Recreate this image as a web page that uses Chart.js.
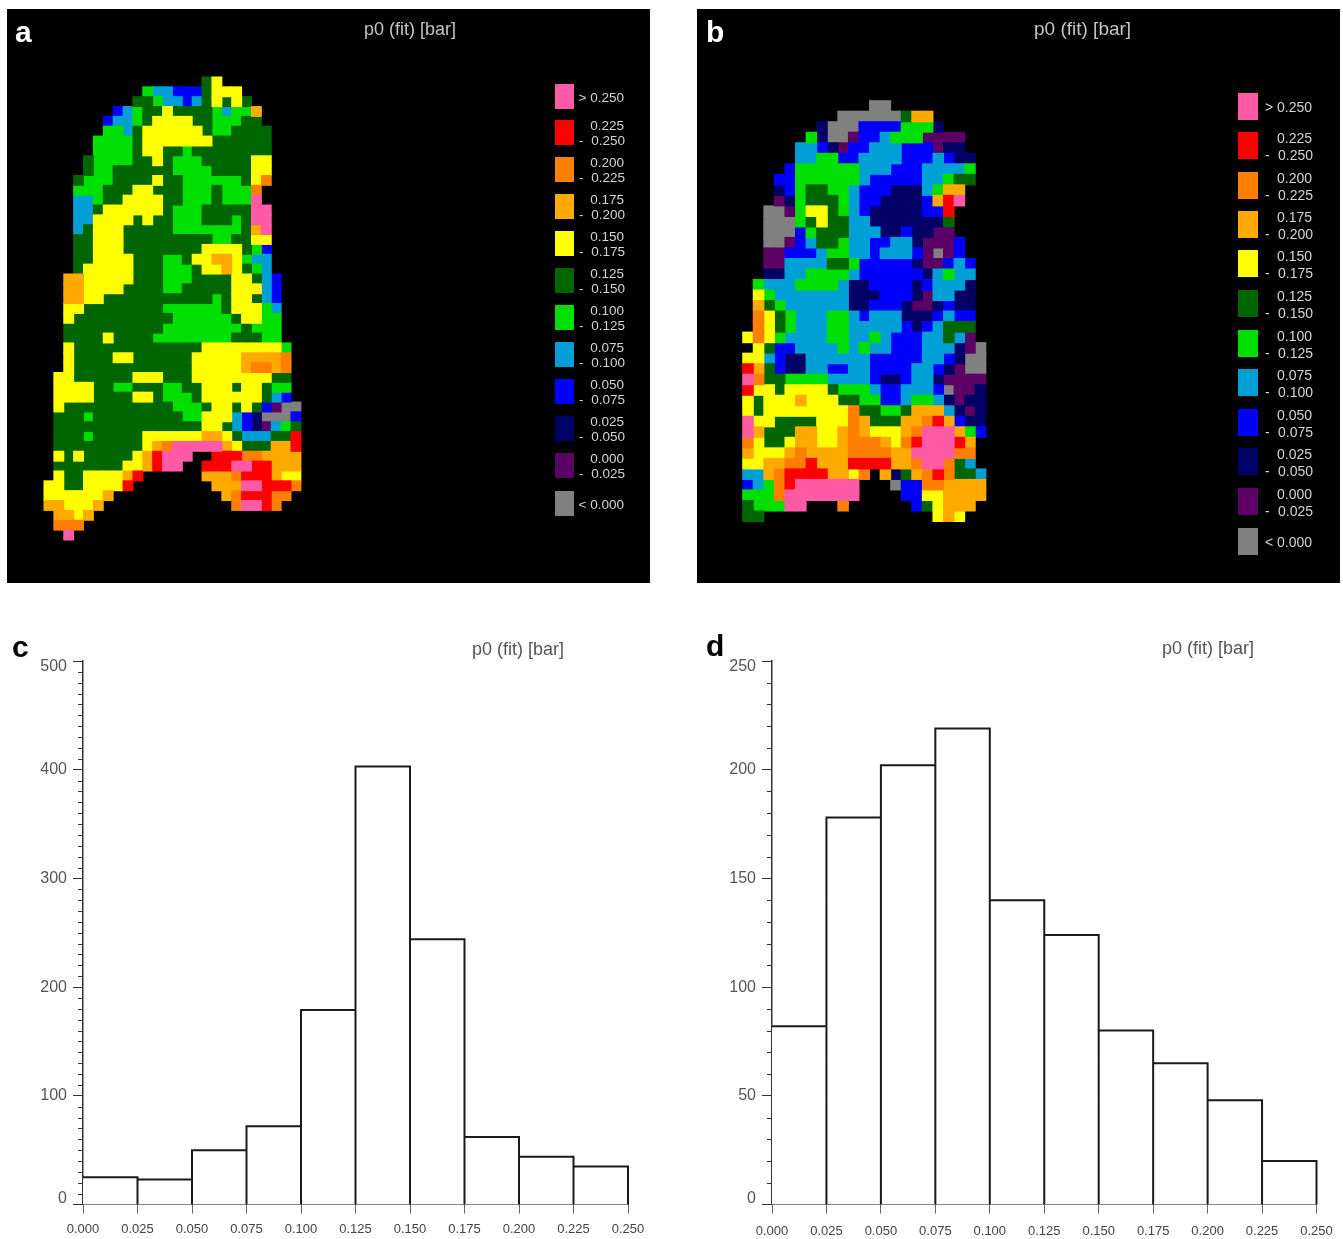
<!DOCTYPE html>
<html>
<head>
<meta charset="utf-8">
<title>p0 (fit) maps and histograms</title>
<script src="https://cdn.jsdelivr.net/npm/chart.js@4"></script>
<style>
html, body { margin: 0; padding: 0; background: #fff; }
#page { position: relative; width: 1343px; height: 1239px; overflow: hidden; font-family: "Liberation Sans", Arial, sans-serif; }
#page canvas { position: absolute; }
.txt { position: absolute; line-height: 1; white-space: nowrap; }
.swatch { position: absolute; }
</style>
</head>
<body>
<div id="page">
  <canvas id="mapA" width="643" height="574" style="left:7px;top:9px;background:#000"></canvas>
  <canvas id="mapB" width="643" height="574" style="left:697px;top:9px;background:#000"></canvas>
  <canvas id="histC" width="670" height="609" style="left:0;top:630px"></canvas>
  <canvas id="histD" width="670" height="609" style="left:673px;top:630px"></canvas>
</div>
<script>
// one letter per class, see classColors
const classKeys = ['P', 'R', 'O', 'A', 'Y', 'D', 'G', 'C', 'B', 'N', 'U', 'X'];
const classColors = ['#ff5aa5', '#ff0000', '#ff8000', '#ffaa00', '#ffff00', '#006600', '#00e000', '#009fd6', '#0000ff', '#000066', '#5c0066', '#808080'];
const legendRows = [
    ['> 0.250'], ['0.225', '0.250'], ['0.200', '0.225'], ['0.175', '0.200'],
    ['0.150', '0.175'], ['0.125', '0.150'], ['0.100', '0.125'], ['0.075', '0.100'],
    ['0.050', '0.075'], ['0.025', '0.050'], ['0.000', '0.025'], ['< 0.000']
];

const mapARows = [
    '................DY........',
    '..........GCCBBBDYYY......',
    '.........DDGCCBCDYDYD.....',
    '.......BCGDDYDDDDGCGGA....',
    '......BCCGDYYYYDDGGGDD....',
    '......GGCDYYYYYYDGGDDDD...',
    '.....GGGGDYYYYYYYDDDDDD...',
    '.....GGGGDYYDDGDDDDDDDD...',
    '....DGGGGDDYDGGGDDDDDYY...',
    '....DGGDDDDDDGGGGDDDDYY...',
    '...DGGGDDDDYDDGGGGGGDYO...',
    '...GGGDDDYYDDDGGGDGGGO....',
    '...CCGDDYYYYDDGGGDGGGP....',
    '...CCDYYYYYYDGGGDDDDDPP...',
    '...CCYYYYDYDDGGGDDDGDPP...',
    '...CDYYYDDDDDGGGGGGGDAP...',
    '...DDYYYDDDDDDDDDGGDDYY...',
    '...DDYYYDDDDDDDDYYYYDGB...',
    '...DDYYYYDDDGGDYYAAYGCC...',
    '...DYYYYYDDDGGGDYYAYDGC...',
    '..AAYYYYYDDDGGGDDDDYYDCB..',
    '..AAYYYYDDDDGGDDDDDYYYCB..',
    '..AAYYDDDDDDDDDDDGDYYDCB..',
    '..YYDDDDDDDDGGGGGGDYYYGC..',
    '..YDDDDDDDDDDGGGGGGDYYGG..',
    '..DDDDDDDDDDGGGGGGGGDGGG..',
    '..DDDDYDDDDGGGGGGGGDDDGG..',
    '..YDDDDDDDDDDDDDYYYYYYYYG.',
    '..YDDDDYYDDDDDDYYYYYAAAAO.',
    '..YDDDDDDDDDDDDYYYYYAOOAO.',
    '.YYDDDDDDYYYDDDYYYYYYYYDD.',
    '.YYYYDDGGDDDGGDDYYYDYYDGG.',
    '.YYYYDDDDYYDGGGDYYYYYYDCB.',
    '.YDDDDDDDDDDDGGGDYYDYDBUXX',
    '.DDDGDDDDDDDDDGGYYYCBNXXXB',
    '.DDDDDDDDDDDDDDDYYDCBNUCGD',
    '.DDDGDDDDDYYYYYYAAYDCCCDDR',
    '.DDDDDDDDDYAOPPPPPAYDDDAAR',
    '.YDYDDDDDYARPPP..RRROOAAAA',
    '.DDDDDDDYYARPP..RRRPPRRAAA',
    '.YDDYYYYAR......AAAORRRAYY',
    'YYDDYYYYR........AAAPPRRRO',
    'YYYYYYA...........AORRROO.',
    'AAYYYA.............OPPRO..',
    '.AAYA.....................',
    '.OOO......................',
    '..P.......................'
];

const mapBRows = [
    '............XX.........',
    '.........XXXXXXDAA.....',
    '.......NXXXBBBBGGGN....',
    '......GNXXUBBCGGGUUUU..',
    '.....CCBNUBBCCCBBBUNN..',
    '.....CCGGBBCCCCBBBCBNN.',
    '....BGGGGGGCCCBBBCCCCG.',
    '...BBGGGGGGCBBBBBCCGDD.',
    '...NBGDDGGCBBBNNNCGAA..',
    '...UNGDDDGCBBNNNNBARP..',
    '..XXUGYYDGCBNNNNNBBR...',
    '..XXXGDYDDCCNNNNNNND...',
    '..XXXBGDDDCCCNNBNNUU...',
    '..XXUBCDDGCCBBCCNUUUB..',
    '..UUBBBCGGCCBCCCBUXUB..',
    '..UUCCCCDDGBBBBBNUUBCB.',
    '..NNCCGGGGCBBBBBBNCGCC.',
    '.GCCCGGGGCNNBBBBNBCCCN.',
    '.YGCCCCCCCNNNBBBNUCCNN.',
    '.ADGCCCCCCNNBBBNUUNBNN.',
    '.OYDGCCCGGCBCCCNNNBCBB.',
    '.OYDGCCCGGCCCCCBNBCDDD.',
    'YOYGCCCCGGCCGCBBBCCDCU.',
    '.YDBBCCCCGCGCCBBBCCCNUX',
    'YYCBNNCCCCCCBBBBBCCBNXX',
    'RADBNNCCBBCCBBBBCCBNUXX',
    'PODDGGGGCCCCBNNBCCNUUUU',
    'RYYDYYYYDGGGCBBCCCBXUUN',
    'YDYYYAYYYDDGGBBCGGCNUNN',
    'YDYYYYYYYYODDGGDAAACNUN',
    'PYYDDDDYYYOADDDAAORABNN',
    'PADDDAAYYAOAYYYAOPPPAGB',
    'OYDDYAAYYAOOOAYORPPPRA.',
    'AYYYAOAAAAOOOOAAPPPPOO.',
    'YYAAOORAAARRRRAAOPPODC.',
    'CCAORRRRAAYO.ANDAORODDC',
    'BCGORPPPPPP...XBBOOAAAA',
    'GGGOPPPPPPP....BBYYAAAA',
    'DGGGPP...O......BDYAAA.',
    'DD................YAY..'
];

const binEdges = [0, 0.025, 0.05, 0.075, 0.1, 0.125, 0.15, 0.175, 0.2, 0.225, 0.25];
const histCCounts = [25, 23, 50, 72, 179, 403, 244, 62, 44, 35];
const histDCounts = [82, 178, 202, 219, 140, 124, 80, 65, 48, 20];

const page = document.getElementById('page');

function addText(str, x, y, size, color, opts) {
    const el = document.createElement('span');
    el.className = 'txt';
    el.textContent = str;
    el.style.left = x + 'px';
    el.style.top = y + 'px';
    el.style.fontSize = size + 'px';
    el.style.color = color;
    el.style.transform = (opts && opts.right ? 'translateX(-100%) ' : '') + 'translateY(-50%)';
    if (opts && opts.bold) el.style.fontWeight = 'bold';
    page.appendChild(el);
}

function addLegend(cfg) {
    legendRows.forEach((row, i) => {
        const cy = cfg.centers[i];
        const sw = document.createElement('div');
        sw.className = 'swatch';
        sw.style.cssText = 'left:' + cfg.x + 'px;top:' + (cy - cfg.h / 2) + 'px;width:' + cfg.w + 'px;height:' + cfg.h + 'px;background:' + classColors[i];
        page.appendChild(sw);
        const ty = cy + cfg.dy;
        if (row.length === 1) {
            addText(row[0], cfg.textRight, ty, cfg.size, '#d4d4d4', { right: true });
        } else {
            addText(row[0], cfg.textRight, ty - cfg.gap, cfg.size, '#d4d4d4', { right: true });
            addText(row[1], cfg.textRight + 1, ty + cfg.gap, cfg.size, '#d4d4d4', { right: true });
            addText('-', cfg.dashX, ty + cfg.gap, cfg.size, '#d4d4d4');
        }
    });
}

function initMap(canvasId, rows, cfg) {
    const nCols = rows[0].length;
    const cell = cfg.cell;
    const datasets = classKeys.map((key, k) => {
        const pts = [];
        rows.forEach((row, r) => {
            for (let c = 0; c < nCols; c++) {
                if (row[c] === key) pts.push({ x: c + 0.5, y: r + 0.5 });
            }
        });
        return {
            data: pts,
            pointStyle: 'rect',
            // 1px of overlap, otherwise antialiased seams show between the cells
            pointRadius: (cell + 1) * Math.SQRT1_2,
            pointBorderWidth: 0,
            backgroundColor: classColors[k],
            pointBackgroundColor: classColors[k],
            showLine: false
        };
    });
    const xMin = -cfg.offX / cell;
    const yMin = -cfg.offY / cfg.cellH;
    new Chart(document.getElementById(canvasId), {
        type: 'scatter',
        data: { datasets: datasets },
        options: {
            responsive: false,
            animation: false,
            events: [],
            layout: { padding: 0, autoPadding: false },
            plugins: { legend: { display: false }, tooltip: { enabled: false } },
            scales: {
                x: { type: 'linear', display: false, min: xMin, max: xMin + 643 / cell },
                y: { type: 'linear', display: false, reverse: true, min: yMin, max: yMin + 574 / cfg.cellH }
            }
        }
    });
}

// long major ticks come from the scale, the short ones and the shifted labels from here
const histAxisPlugin = {
    id: 'histAxis',
    afterDraw: function (chart, args, opts) {
        const ctx = chart.ctx;
        const y = chart.scales.y;
        const left = chart.chartArea.left;
        ctx.save();
        ctx.strokeStyle = '#333';
        ctx.lineWidth = 1;
        for (let v = opts.minorStep; v < y.max; v += opts.minorStep) {
            if (v % y.options.ticks.stepSize === 0) continue;
            const py = Math.round(y.getPixelForValue(v)) + 0.5;
            ctx.beginPath();
            ctx.moveTo(left - 5, py);
            ctx.lineTo(left, py);
            ctx.stroke();
        }
        ctx.font = '16px "Liberation Sans", Arial, sans-serif';
        ctx.fillStyle = '#555';
        ctx.textAlign = 'right';
        ctx.textBaseline = 'middle';
        y.ticks.forEach(t => {
            let nudge = 0;
            if (t.value === y.max) nudge = 6;
            if (t.value === 0) nudge = -6;
            ctx.fillText(String(t.value), left - 16, y.getPixelForValue(t.value) + nudge);
        });
        ctx.restore();
    }
};

function initHist(canvasId, counts, cfg) {
    const bars = counts.map((c, i) => ({ x: (binEdges[i] + binEdges[i + 1]) / 2, y: c }));
    // outline runs down to the baseline at every bin edge, so all the walls get the same weight
    const outline = [];
    counts.forEach((c, i) => {
        outline.push({ x: binEdges[i], y: c });
        outline.push({ x: binEdges[i + 1], y: c });
        outline.push({ x: binEdges[i + 1], y: 0 });
    });

    new Chart(document.getElementById(canvasId), {
        type: 'bar',
        data: {
            datasets: [{
                type: 'bar',
                data: bars,
                backgroundColor: '#fff',
                borderWidth: 0,
                barPercentage: 1,
                categoryPercentage: 1,
                order: 1
            }, {
                type: 'line',
                data: outline,
                borderColor: '#1a1a1a',
                borderWidth: 2,
                borderJoinStyle: 'miter',
                pointRadius: 0,
                fill: false,
                clip: false,
                order: 0
            }]
        },
        options: {
            responsive: false,
            animation: false,
            events: [],
            layout: { padding: { top: cfg.top, right: cfg.right, left: 0, bottom: 0 }, autoPadding: false },
            plugins: {
                legend: { display: false },
                tooltip: { enabled: false },
                histAxis: { minorStep: cfg.minorStep }
            },
            scales: {
                x: {
                    type: 'linear',
                    min: 0,
                    max: 0.25,
                    offset: false,
                    afterFit: function (scale) { scale.height = 34.5; },
                    grid: { offset: false, drawOnChartArea: false, tickLength: 9, tickColor: '#666' },
                    border: { color: '#777', width: 1 },
                    ticks: {
                        stepSize: 0.025,
                        autoSkip: false,
                        maxRotation: 0,
                        padding: cfg.xPad,
                        color: '#444',
                        font: { family: '"Liberation Sans", Arial, sans-serif', size: 13 },
                        callback: function (v) { return v.toFixed(3); }
                    }
                },
                y: {
                    type: 'linear',
                    min: 0,
                    max: cfg.yMax,
                    afterFit: function (scale) { scale.width = cfg.axisX; },
                    grid: { drawOnChartArea: false, tickLength: 10, tickColor: '#333' },
                    border: { color: '#333', width: 1.5 },
                    ticks: { stepSize: cfg.yStep, display: false }
                }
            }
        },
        plugins: [histAxisPlugin]
    });
}

initMap('mapA', mapARows, { cell: 9.88, cellH: 9.85, offX: 37, offY: 68 });
initMap('mapB', mapBRows, { cell: 10.57, cellH: 10.52, offX: 45.7, offY: 91.7 });

initHist('histC', histCCounts, { axisX: 83, top: 31, right: 42, yMax: 500, yStep: 100, minorStep: 10, xPad: 8 });
initHist('histD', histDCounts, { axisX: 99, top: 31, right: 26.5, yMax: 250, yStep: 50, minorStep: 10, xPad: 10 });

addLegend({
    x: 555, w: 19, h: 25, size: 13.5, gap: 7.5, dy: 1.5, textRight: 624, dashX: 579,
    centers: [96, 132, 169, 206, 243, 280, 317, 354, 391, 428, 465, 503]
});
addLegend({
    x: 1238, w: 20, h: 27, size: 14, gap: 8.5, dy: 1, textRight: 1312, dashX: 1265,
    centers: [106, 145, 185, 224, 263, 303, 343, 382, 422, 461, 501, 541]
});

addText('p0 (fit) [bar]', 364, 29, 18, '#c4c4c4');
addText('p0 (fit) [bar]', 1034, 28, 19, '#c4c4c4');
addText('p0 (fit) [bar]', 472, 649, 18, '#555');
addText('p0 (fit) [bar]', 1162, 648, 18, '#555');

addText('a', 15, 31.5, 30, '#fff', { bold: true });
addText('b', 706, 32, 30, '#fff', { bold: true });
addText('c', 12, 647, 30, '#000', { bold: true });
addText('d', 706, 646, 30, '#000', { bold: true });
</script>
</body>
</html>
